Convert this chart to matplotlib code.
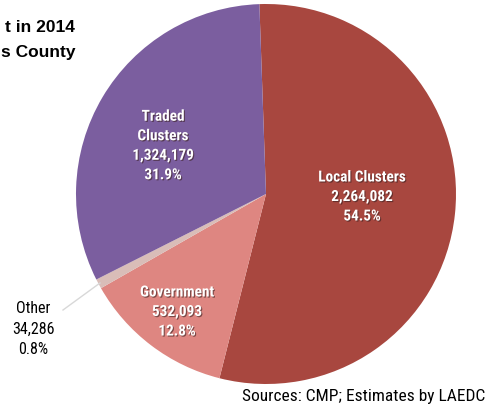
import matplotlib
matplotlib.use("Agg")
import matplotlib.pyplot as plt
import matplotlib.patheffects as pe

categories = ["Local Clusters", "Government", "Other", "Traded\nClusters"]
values = [2264082, 532093, 34286, 1324179]
pct_labels = ["54.5%", "12.8%", "0.8%", "31.9%"]
colors = ["#A8473F", "#DE8681", "#D9BDB8", "#7B5E9F"]

W, H = 487, 410
fig = plt.figure(figsize=(W / 100, H / 100), dpi=100)
ax = fig.add_axes([0, 0, 1, 1])
ax.set_aspect("equal")

narrow = ["Roboto Condensed", "Archivo Narrow", "DejaVu Sans"]

cx, cy, r = 266, H - 195, 190
ax.pie(values, colors=colors, startangle=92, counterclock=False,
       center=(cx, cy), radius=r, frame=True,
       wedgeprops=dict(linewidth=0))
ax.set_xlim(0, W)
ax.set_ylim(0, H)
ax.axis("off")

def fmt(v):
    return f"{v:,}"

shadow = [pe.withSimplePatchShadow(offset=(0.8, -0.8), shadow_rgbFace="#3a2020", alpha=0.6)]
label_pos = {0: (362, 198), 1: (177, 313), 3: (163, 147)}
for i, (x, y) in label_pos.items():
    txt = f"{categories[i]}\n{fmt(values[i])}\n{pct_labels[i]}"
    ax.text(x, H - y, txt, ha="center", va="center", color="white",
            fontsize=11, fontweight="bold", family=narrow, linespacing=1.5,
            path_effects=shadow)

# Other label outside with leader line
ax.plot([63, 100], [H - 311, H - 284], color="#d8d8d8", lw=1)
ax.text(33, H - 329, f"{categories[2]}\n{fmt(values[2])}\n{pct_labels[2]}",
        ha="center", va="center", color="black", fontsize=11.5,
        family=narrow, linespacing=1.45)

# Title (cropped in the reference)
ax.text(75, H - 28, "t in 2014", ha="right", va="center", fontsize=12.5,
        fontweight="bold", family="Liberation Sans", color="black")
ax.text(75, H - 53, "s County", ha="right", va="center", fontsize=12.5,
        fontweight="bold", family="Liberation Sans", color="black")

ax.text(485, H - 397, "Sources: CMP; Estimates by LAEDC", ha="right", va="center",
        fontsize=12.5, family=narrow, color="black")

fig.savefig("out.png", dpi=100)
